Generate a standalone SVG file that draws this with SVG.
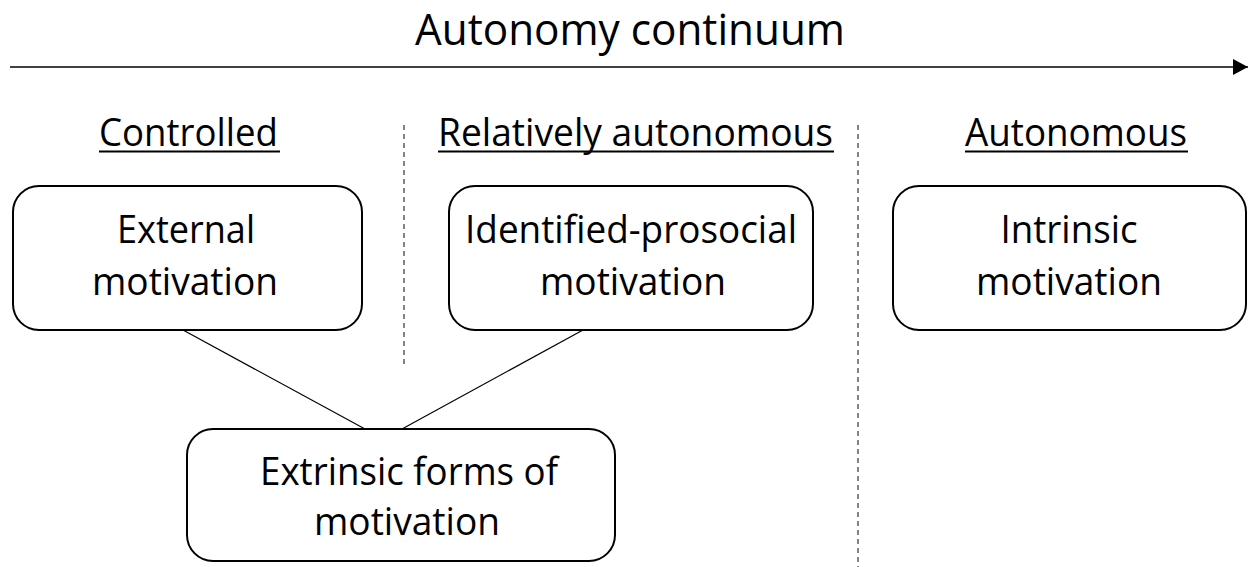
<svg xmlns="http://www.w3.org/2000/svg" width="1248" height="567" viewBox="0 0 1248 567">
<style>
text{font-family:"Open Sans","Liberation Sans",sans-serif;fill:#000;}
.t{font-size:38px;text-anchor:middle;}
.h{font-size:38px;}
.title{font-size:43px;}
.box{fill:#fff;stroke:#000;stroke-width:2;}
.ul{stroke:#000;stroke-width:2;}
.dash{stroke:#333;stroke-width:1.2;stroke-dasharray:5 4;fill:none;}
.conn{stroke:#000;stroke-width:1.2;fill:none;}
</style>
<defs>
<marker id="arr" markerWidth="16" markerHeight="16" refX="15" refY="8" orient="auto" markerUnits="userSpaceOnUse">
<path d="M0,0 L15,8 L0,16 Z" fill="#000"/>
</marker>
</defs>
<rect width="1248" height="567" fill="#fff"/>
<g id="axis">
<text class="title" x="415" y="45" textLength="430" lengthAdjust="spacingAndGlyphs">Autonomy continuum</text>
<line x1="10" y1="67" x2="1248" y2="67" stroke="#000" stroke-width="1.6" marker-end="url(#arr)"/>
</g>
<g id="dividers">
<line class="dash" x1="404" y1="125" x2="404" y2="365"/>
<line class="dash" x1="858" y1="125" x2="858" y2="567"/>
</g>
<g id="header-controlled">
<text class="h" x="99" y="146" textLength="179" lengthAdjust="spacingAndGlyphs">Controlled</text>
<line class="ul" x1="99" y1="151.5" x2="280" y2="151.5"/>
</g>
<g id="header-relative">
<text class="h" x="438" y="146" textLength="395" lengthAdjust="spacingAndGlyphs">Relatively autonomous</text>
<line class="ul" x1="438" y1="151.5" x2="834" y2="151.5"/>
</g>
<g id="header-autonomous">
<text class="h" x="965" y="146" textLength="222" lengthAdjust="spacingAndGlyphs">Autonomous</text>
<line class="ul" x1="965" y1="151.5" x2="1188" y2="151.5"/>
</g>
<g id="connectors">
<line class="conn" x1="183" y1="330" x2="365" y2="429"/>
<line class="conn" x1="583" y1="330" x2="402" y2="429"/>
</g>
<g id="external">
<rect class="box" x="13" y="186" width="349" height="144" rx="26"/>
<text class="t" x="186" y="243" textLength="138" lengthAdjust="spacingAndGlyphs">External</text>
<text class="t" x="185" y="295" textLength="186" lengthAdjust="spacingAndGlyphs">motivation</text>
</g>
<g id="identified">
<rect class="box" x="449" y="186" width="364" height="144" rx="26"/>
<text class="t" x="631" y="243" textLength="332" lengthAdjust="spacingAndGlyphs">Identified-prosocial</text>
<text class="t" x="633" y="295" textLength="186" lengthAdjust="spacingAndGlyphs">motivation</text>
</g>
<g id="intrinsic">
<rect class="box" x="893" y="186" width="353" height="144" rx="26"/>
<text class="t" x="1069" y="243" textLength="137" lengthAdjust="spacingAndGlyphs">Intrinsic</text>
<text class="t" x="1069" y="295" textLength="186" lengthAdjust="spacingAndGlyphs">motivation</text>
</g>
<g id="extrinsic">
<rect class="box" x="187" y="429" width="428" height="132" rx="26"/>
<text class="t" x="409" y="485" textLength="298" lengthAdjust="spacingAndGlyphs">Extrinsic forms of</text>
<text class="t" x="407" y="535" textLength="186" lengthAdjust="spacingAndGlyphs">motivation</text>
</g>
</svg>
